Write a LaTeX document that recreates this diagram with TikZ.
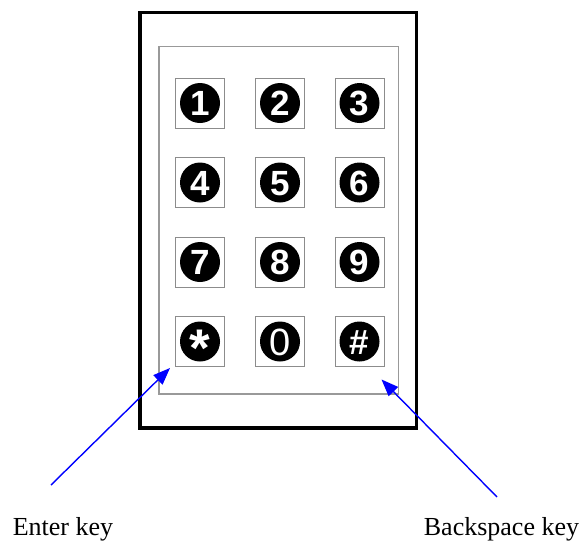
\documentclass[tikz,border=0pt]{standalone}
\usepackage{fontspec}
\setmainfont{Liberation Serif}
\newfontfamily\keyfont{Liberation Sans}
\usetikzlibrary{arrows.meta}
\newcommand\kpkey[5][]{%
  \node[keybox] (k#2) at (#3,#4) {};
  \node[keydisc] (d#2) at (k#2.center) {};
  \node[keyglyph,#1] (t#2) at (d#2.center) {#5};
}
\begin{document}
\begin{tikzpicture}[x=1pt,y=-1pt,
  frame/.style={draw=black, line width=3.3pt, minimum width=276.5pt, minimum height=415.7pt, inner sep=0pt},
  panel/.style={draw=black!40, line width=1.1pt, minimum width=239.5pt, minimum height=347.5pt, inner sep=0pt},
  keybox/.style={draw=black!45, line width=1pt, minimum width=49pt, minimum height=50pt, inner sep=0pt},
  keydisc/.style={circle, fill=black, minimum size=40pt, inner sep=0pt},
  keyglyph/.style={text=white, inner sep=0pt, text height=25pt, text depth=0pt,
    font=\keyfont\bfseries\fontsize{35}{35}\selectfont},
  pointer/.style={draw=blue, line width=1.4pt, -{Triangle[length=17pt,width=13pt]}},
  caption/.style={font=\fontsize{26}{30}\selectfont, anchor=base, inner sep=0pt}]
\useasboundingbox (0,0) rectangle (583,541);
\node[frame] (outer) at (278.25,220.15) {};
\node[panel] (inner) at (278.75,220.25) {};
\kpkey{1}{200}{103}{1}
\kpkey{2}{280}{103}{2}
\kpkey{3}{359.5}{103}{3}
\kpkey{4}{200}{182.5}{4}
\kpkey{5}{280}{182.5}{5}
\kpkey{6}{359.5}{182.5}{6}
\kpkey{7}{200}{262}{7}
\kpkey{8}{280}{262}{8}
\kpkey{9}{359.5}{262}{9}
\kpkey[text height=49pt, font=\keyfont\bfseries\fontsize{53}{53}\selectfont]{star}{200}{341.5}{*}
\kpkey[text height=27pt, font=\keyfont\fontsize{38}{38}\selectfont]{0}{280}{341.5}{0}
\kpkey{hash}{359.5}{341.5}{\#}
\node[caption] (enterlbl) at (63,535) {Enter key};
\node[caption] (backlbl) at (501.5,535) {Backspace key};
\coordinate (enterTail) at (51,485);
\coordinate (enterTip) at (170,368);
\coordinate (backTail) at (497,497);
\coordinate (backTip) at (381.5,379.5);
\draw[pointer] (enterTail) -- (enterTip);
\draw[pointer] (backTail) -- (backTip);
\end{tikzpicture}
\end{document}
